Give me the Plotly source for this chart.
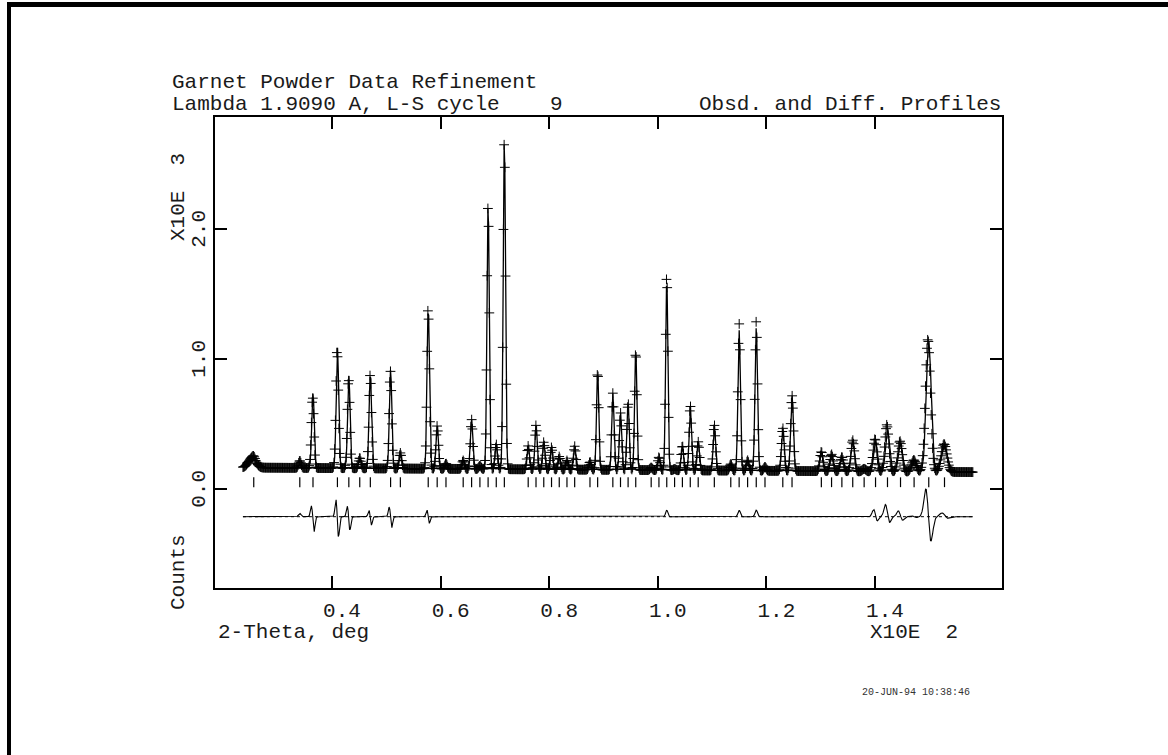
import numpy as np
import plotly.graph_objects as go

# ---------------- data ----------------
# 2-theta scan (deg)
scan_start = 23.6
scan_end = 158.0
scan_step = 0.13

# reflection positions (deg 2-theta) = tick row under the pattern
refl_pos = [25.59, 34.07, 36.50, 41.00, 43.10, 45.11, 47.06, 50.79, 52.59, 57.72,
            59.37, 60.99, 64.16, 65.71, 67.24, 68.75, 70.25, 71.74, 76.13, 77.57,
            79.00, 80.43, 81.85, 83.27, 84.69, 87.51, 88.92, 91.72, 93.13, 94.53,
            95.94, 98.78, 100.21, 101.65, 103.09, 104.53, 105.98, 107.44, 110.41, 113.44,
            114.98, 116.54, 118.13, 119.74, 123.02, 124.72, 130.12, 132.00, 133.90, 135.90,
            138.00, 140.10, 142.30, 144.70, 147.20, 149.90, 152.80]
# calculated peak heights above background (counts)
calc_height = [20, 30, 575, 930, 710, 80, 730, 760, 120, 1240,
               330, 40, 65, 380, 25, 2040, 190, 2540, 180, 340,
               210, 170, 100, 70, 180, 60, 760, 590, 440, 520,
               920, 20, 100, 1460, 10, 190, 500, 220, 350, 50,
               1080, 80, 1100, 30, 330, 580, 150, 130, 110, 240,
               20, 230, 320, 220, 90, 1000, 200]
# observed peak heights above background (counts)
obs_height = [20, 55, 545, 910, 690, 80, 720, 750, 120, 1240,
              330, 40, 65, 380, 25, 2040, 190, 2540, 180, 340,
              210, 170, 100, 70, 180, 60, 760, 590, 440, 520,
              920, 20, 100, 1510, 10, 190, 500, 220, 350, 50,
              1130, 80, 1150, 30, 330, 580, 150, 130, 110, 240,
              20, 250, 360, 235, 90, 1020, 215]
# observed peak offset from calculated position (deg)
obs_shift = [0, 0, -0.07, -0.06, -0.05, 0, -0.03, -0.04, 0, -0.015,
             0, 0, 0, 0, 0, 0, 0, 0, 0, 0,
             0, 0, 0, 0, 0, 0, 0, 0, 0, 0,
             0, 0, 0, 0, 0, 0, 0, 0, 0, 0,
             0, 0, 0, 0, 0, 0, 0, 0, 0, 0,
             0, -0.10, -0.12, -0.10, -0.05, -0.155, -0.08]
# background (counts) at scan start / end, and low-angle hump
bg_counts = [165, 130]
hump = {"center": 25.3, "height": 75, "fwhm": 1.6}
# peak width (Caglioti U, V, W in deg^2)
caglioti = [0.1321, -0.2697, 0.3762]
diff_offset = -213

x_tickvals = [40, 60, 80, 100, 120, 140]
x_ticktext = ["0.4", "0.6", "0.8", "1.0", "1.2", "1.4"]
y_tickvals = [0, 1000, 2000]
y_ticktext = ["0.0", "1.0", "2.0"]

assert len(refl_pos) == len(calc_height) == len(obs_height) == len(obs_shift)

# ---------------- profile ----------------
tt = np.arange(scan_start, scan_end + scan_step / 2, scan_step)
bg = bg_counts[0] + (bg_counts[1] - bg_counts[0]) * (tt - scan_start) / (scan_end - scan_start)
bg = bg + hump["height"] * np.exp(-4 * np.log(2) * (tt - hump["center"]) ** 2 / hump["fwhm"] ** 2)

U, V, Wc = caglioti
calc = bg.copy()
obs = bg.copy()
for p, hc, ho, sh in zip(refl_pos, calc_height, obs_height, obs_shift):
    t = np.tan(np.radians(p / 2))
    w = np.sqrt(U * t * t + V * t + Wc)
    calc += hc * np.exp(-4 * np.log(2) * (tt - p) ** 2 / w ** 2)
    obs += ho * np.exp(-4 * np.log(2) * (tt - p - sh) ** 2 / w ** 2)
diff = obs - calc + diff_offset

# ---------------- layout geometry (pixels) ----------------
W, H = 1168, 755
L, R, T, B = 215, 1002, 117, 588
x_px0, x_val0, x_px1, x_val1 = 332, 40.0, 875, 140.0
y_px0, y_val0, y_px1, y_val1 = 489, 0.0, 359, 1000.0
xs = (x_px1 - x_px0) / (x_val1 - x_val0)
ys = (y_px0 - y_px1) / (y_val1 - y_val0)
x_range = [x_val0 - (x_px0 - L) / xs, x_val0 + (R - x_px0) / xs]
y_range = [y_val0 - (B - y_px0) / ys, y_val0 + (y_px0 - T) / ys]


def px(x):
    return (x - L) / (R - L)


def py(y):
    return (B - y) / (B - T)


FONT = "Liberation Mono, Courier New, monospace"
TXT = "#1a1a1a"

fig = go.Figure()
fig.add_trace(go.Scatter(
    x=tt, y=obs, mode="markers",
    marker=dict(symbol="cross-thin", size=7, line=dict(width=1, color="black"), color="black"),
    hoverinfo="skip", showlegend=False))
fig.add_trace(go.Scatter(
    x=tt, y=calc, mode="lines", line=dict(color="black", width=1.3),
    hoverinfo="skip", showlegend=False))
fig.add_trace(go.Scatter(
    x=[scan_start, scan_end], y=[diff_offset, diff_offset], mode="lines",
    line=dict(color="black", width=1, dash="dot"), hoverinfo="skip", showlegend=False))
fig.add_trace(go.Scatter(
    x=tt, y=diff, mode="lines", line=dict(color="black", width=1.1),
    hoverinfo="skip", showlegend=False))
fig.add_trace(go.Scatter(
    x=refl_pos, y=[52] * len(refl_pos), mode="markers",
    marker=dict(symbol="line-ns", size=7, line=dict(width=1.2, color="black")),
    hoverinfo="skip", showlegend=False))

axis_common = dict(
    showgrid=False, zeroline=False, showline=True, linecolor="black", linewidth=1.5,
    mirror="ticks", ticks="inside", ticklen=12, tickwidth=1.5, tickcolor="black",
    tickfont=dict(family=FONT, size=21, color=TXT),
)
fig.update_xaxes(range=x_range, tickvals=x_tickvals, ticktext=x_ticktext,
                 ticklabelshift=10, ticklabelstandoff=2, **axis_common)
fig.update_yaxes(range=y_range, tickvals=y_tickvals, ticktext=y_ticktext,
                 tickangle=-90, ticklabelshift=3, ticklabelstandoff=0, **axis_common)

NB = "\u00a0"
annots = [
    dict(text="Garnet Powder Data Refinement", x=px(170), y=py(82), xanchor="left", yanchor="middle"),
    dict(text="Lambda 1.9090 A, L-S cycle" + NB * 4 + "9", x=px(170), y=py(104), xanchor="left", yanchor="middle"),
    dict(text="Obsd. and Diff. Profiles", x=px(1003), y=py(104), xanchor="right", yanchor="middle"),
    dict(text="2-Theta, deg", x=px(216), y=py(632), xanchor="left", yanchor="middle"),
    dict(text="X10E" + NB * 2 + "2", x=px(868), y=py(632), xanchor="left", yanchor="middle"),
    dict(text="X10E" + NB * 2 + "3", x=px(178), y=py(197), xanchor="center", yanchor="middle", textangle=-90),
    dict(text="Counts", x=px(178), y=py(572), xanchor="center", yanchor="middle", textangle=-90),
]
for a in annots:
    a.update(xref="paper", yref="paper", showarrow=False,
             font=dict(family=FONT, size=21, color=TXT))
annots.append(dict(text="20-JUN-94 10:38:46", x=px(860), y=py(692), xref="paper", yref="paper",
                   xanchor="left", yanchor="middle", showarrow=False,
                   font=dict(family=FONT, size=10, color="#333333")))

shapes = [
    dict(type="line", xref="paper", yref="paper", x0=px(7), x1=px(1168), y0=py(4.5), y1=py(4.5),
         line=dict(color="black", width=5)),
    dict(type="line", xref="paper", yref="paper", x0=px(9), x1=px(9), y0=py(2), y1=py(755),
         line=dict(color="black", width=4)),
]

fig.update_layout(
    width=W, height=H, autosize=False,
    margin=dict(l=L, r=W - R, t=T, b=H - B, pad=0),
    paper_bgcolor="white", plot_bgcolor="white",
    annotations=annots, shapes=shapes, showlegend=False,
)

fig.write_html("out.html", config={"displayModeBar": False})
